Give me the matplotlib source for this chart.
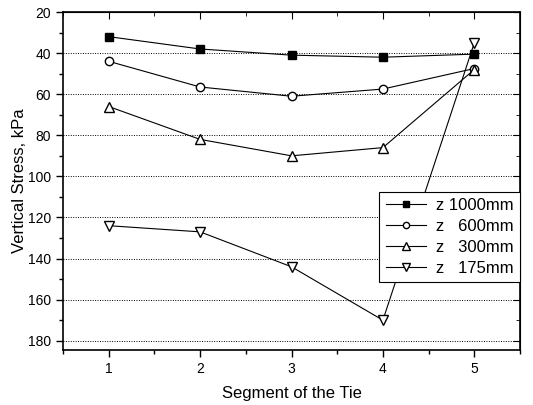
import matplotlib
matplotlib.use("Agg")
import matplotlib.pyplot as plt
from matplotlib.ticker import MultipleLocator

plt.rcParams['font.family'] = ['Liberation Sans', 'DejaVu Sans']

segments = [1, 2, 3, 4, 5]
z1000 = [32, 38, 41, 42, 40.5]
z600 = [44, 56.5, 61, 57.5, 47.5]
z300 = [66, 82, 90, 86, 48]
z175 = [124, 127, 144, 170, 35]
labels = ["z 1000mm", "z   600mm", "z   300mm", "z   175mm"]

fig = plt.figure(figsize=(5.33, 4.05), dpi=100)
ax = fig.add_axes([63/533, 1 - 350/405, (520-63)/533, (350-12)/405])

ax.plot(segments, z1000, '-s', color='black', lw=0.8, ms=6, mfc='black', label=labels[0])
ax.plot(segments, z600, '-o', color='black', lw=0.8, ms=6, mfc='white', label=labels[1])
ax.plot(segments, z300, '-^', color='black', lw=0.8, ms=7, mfc='white', label=labels[2])
ax.plot(segments, z175, '-v', color='black', lw=0.8, ms=7, mfc='white', label=labels[3])

ax.set_xlim(0.5, 5.5)
ax.set_ylim(184.5, 20)
ax.xaxis.set_major_locator(MultipleLocator(1))
ax.xaxis.set_minor_locator(MultipleLocator(0.5))
ax.yaxis.set_major_locator(MultipleLocator(20))
ax.yaxis.set_minor_locator(MultipleLocator(10))

# dotted grid at the major y ticks
for y in range(40, 181, 20):
    ax.axhline(y, color='black', lw=0.7, ls=(0, (1, 1.5)), zorder=0)

ax.tick_params(which='both', direction='out', top=False, right=False, labelsize=10)
ax.tick_params(which='major', length=5, width=1)
ax.tick_params(which='minor', length=3, width=1)
ax2 = ax.secondary_xaxis('top')
ax2.xaxis.set_major_locator(MultipleLocator(1))
ax2.xaxis.set_minor_locator(MultipleLocator(0.5))
ax2.tick_params(which='both', direction='in', labeltop=False)
ax2.tick_params(which='major', length=5)
ax2.tick_params(which='minor', length=3)
ax3 = ax.secondary_yaxis('right')
ax3.yaxis.set_major_locator(MultipleLocator(20))
ax3.yaxis.set_minor_locator(MultipleLocator(10))
ax3.tick_params(which='both', direction='in', labelright=False)
ax3.tick_params(which='major', length=5)
ax3.tick_params(which='minor', length=3)
for s in ax.spines.values():
    s.set_linewidth(1.2)

ax.set_xlabel("Segment of the Tie", fontsize=12, labelpad=7.5)
ax.set_ylabel("Vertical Stress, kPa", fontsize=12, labelpad=0.5)

leg = ax.legend(loc='lower right', bbox_to_anchor=(1.0, 0.2), fontsize=12, frameon=True,
                fancybox=False, edgecolor='black', framealpha=1, borderaxespad=0.0,
                handlelength=2.4, handletextpad=0.6, labelspacing=0.35, markerscale=0.75)
leg.get_frame().set_linewidth(0.8)

fig.savefig("out.png", dpi=100)
